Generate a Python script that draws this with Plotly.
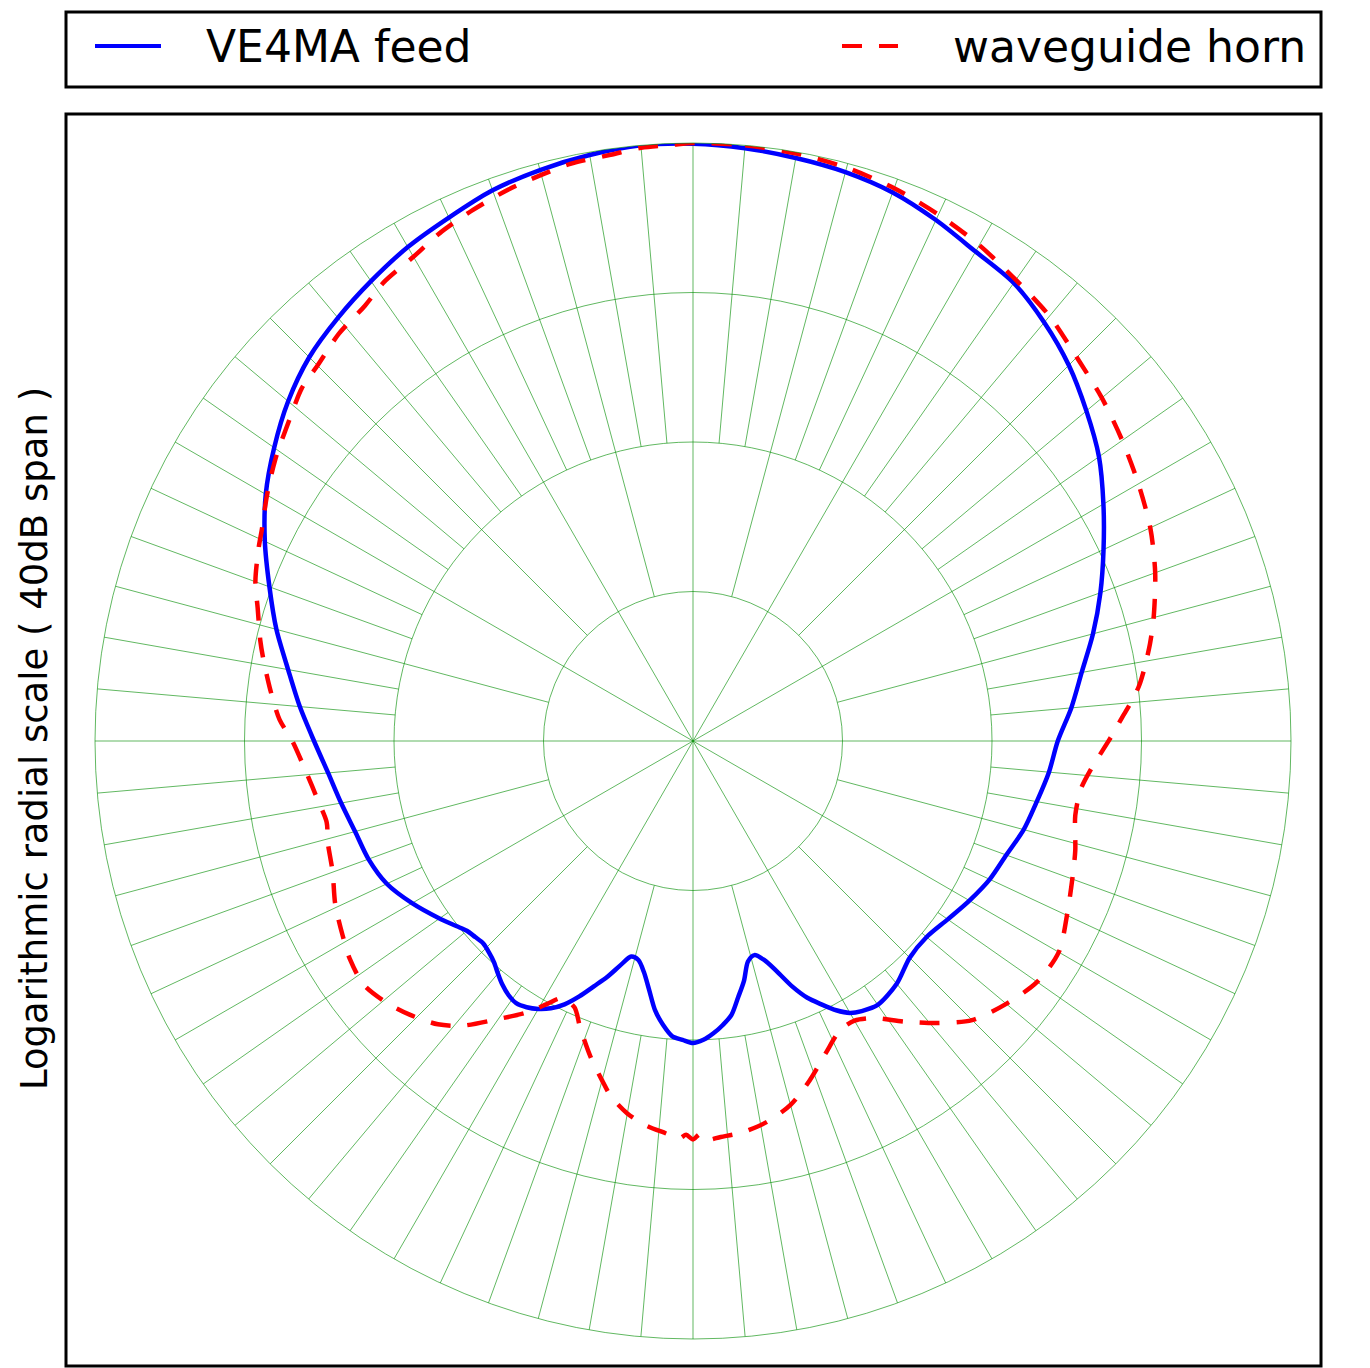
import plotly.graph_objects as go

# ---------------- data (angle in degrees clockwise from top, level in dB) ----
blue_theta = [0, 5, 10, 15, 20, 25, 30, 35, 40, 45, 50, 55, 60, 65, 70, 75, 80, 85,
              90, 95, 100, 105, 110, 115, 120, 125, 130, 135, 140, 145, 148, 150,
              152, 154, 156, 158, 160, 162, 164, 166, 168, 170, 172, 174, 176, 178,
              180, 182, 184, 186, 188, 190, 192, 194, 196, 198, 200, 202, 204, 206,
              208, 210, 212, 214, 216, 218, 220, 222, 224, 226, 228, 230, 232, 235,
              240, 245, 250, 255, 260, 265, 270, 275, 280, 285, 290, 295, 300, 305,
              310, 315, 320, 325, 330, 335, 340, 345, 350, 355, 360]
blue_db = [-0.05, -0.2, -0.4, -0.6, -0.95, -1.55, -2.2, -2.6, -3.45, -4.45, -5.65,
           -6.85, -8.3, -9.7, -11.0, -12.3, -13.6, -14.6, -15.6, -16.1, -16.65,
           -17.1, -17.7, -18.1, -18.65, -19.2, -19.6, -19.5, -18.8, -18.45, -18.7,
           -19.0, -19.6, -20.4, -21.2, -22.3, -23.6, -24.6, -25.1, -24.8, -23.6,
           -22.6, -21.5, -20.9, -20.4, -20.0, -19.8, -20.0, -20.2, -20.9, -21.8,
           -23.1, -24.2, -24.9, -25.0, -24.2, -23.2, -22.3, -21.3, -20.4, -19.75,
           -19.3, -19.0, -18.85, -19.0, -19.3, -19.7, -20.1, -20.35, -20.5, -20.4,
           -20.25, -19.9, -19.3, -18.3, -17.4, -16.9, -16.6, -16.1, -15.5, -14.65,
           -13.6, -12.5, -11.15, -9.85, -8.4, -7.0, -5.8, -4.65, -3.7, -3.05, -2.45,
           -1.85, -1.37, -0.8, -0.46, -0.2, 0.0, -0.05]

red_theta = [0, 5, 10, 15, 20, 25, 30, 35, 40, 45, 50, 55, 60, 65, 70, 75, 78, 81,
             83, 85, 87, 89, 91, 94, 97, 101, 106, 110, 115, 120, 125, 130, 135, 139,
             143, 147, 150, 153, 157, 161, 165, 169, 173, 176, 178, 179, 180, 181,
             182, 184, 187, 190, 193, 195, 198, 201.5, 204, 207, 209, 211.5, 215,
             219, 222, 226, 229.5, 233.5, 237.5, 241, 245.5, 250, 254.5, 257.5, 261,
             265, 270, 273, 277, 281, 283, 287, 290, 294, 296, 300, 304, 309, 312,
             315, 319, 323, 326, 330, 333.5, 337.5, 341.5, 345, 348, 352, 355, 358, 360]
red_db = [0.0, 0.0, -0.1, -0.3, -0.65, -1.15, -1.7, -2.35, -2.9, -3.7, -4.3, -4.95,
          -5.6, -6.25, -7.1, -8.1, -8.75, -9.45, -9.95, -10.6, -11.3, -11.9, -12.5,
          -13.3, -13.85, -13.95, -13.4, -13.0, -12.4, -11.75, -11.9, -12.65, -13.6,
          -15.0, -16.5, -17.9, -18.4, -18.3, -17.3, -16.0, -14.8, -14.05, -13.6,
          -13.45, -13.3, -13.7, -13.35, -13.65, -13.4, -13.7, -14.1, -14.7, -15.6,
          -16.5, -17.8, -19.4, -20.5, -20.7, -19.9, -18.7, -17.3, -15.5, -14.5,
          -13.65, -13.05, -12.6, -12.8, -13.2, -13.7, -14.35, -14.65, -14.9, -14.6,
          -14.1, -13.2, -12.3, -11.5, -10.7, -10.3, -9.55, -8.85, -8.2, -7.9, -7.1,
          -6.3, -5.4, -4.77, -4.48, -3.9, -3.54, -3.0, -2.6, -2.04, -1.55, -1.1,
          -0.8, -0.53, -0.4, -0.17, -0.1, 0.0]

series_names = ["VE4MA feed", "waveguide horn"]
y_label = "Logarithmic radial scale ( 40dB span )"
db_floor, db_top = -40, 0
ring_levels = [-30, -20, -10]

# ---------------- figure geometry helpers (page pixels -> paper) -----------
W, H = 1370, 1368
OFF = 8  # page body margin in front of the plot div
def px(x):
    return (x - OFF) / W
def py(y):
    return 1 - (y - OFF) / H

GRID = "rgba(0,140,0,0.62)"
FONT = "DejaVu Sans"

fig = go.Figure()

# spoke grid: 30deg from centre, 15deg from first ring, 5deg from second ring
sp_r, sp_t = [], []
for a in range(0, 360, 5):
    if a % 30 == 0:
        r0 = db_floor
    elif a % 15 == 0:
        r0 = ring_levels[0]
    else:
        r0 = ring_levels[1]
    sp_r += [r0, db_top, None]
    sp_t += [a, a, None]
fig.add_trace(go.Scatterpolar(r=sp_r, theta=sp_t, mode="lines",
                              line=dict(color=GRID, width=1),
                              connectgaps=False, hoverinfo="skip",
                              showlegend=False))

fig.add_trace(go.Scatterpolar(r=blue_db, theta=blue_theta, mode="lines",
                              name=series_names[0],
                              line=dict(color="#0000ff", width=4.5, shape="spline",
                                        smoothing=0.8),
                              showlegend=False))
fig.add_trace(go.Scatterpolar(r=red_db, theta=red_theta, mode="lines",
                              name=series_names[1],
                              line=dict(color="#ff0000", width=4.5, dash="20px,17px",
                                        shape="spline", smoothing=0.8),
                              showlegend=False))

cx, cy, R = 693, 741, 598
fig.update_layout(
    width=W, height=H,
    margin=dict(l=0, r=0, t=0, b=0),
    paper_bgcolor="white",
    showlegend=False,
    polar=dict(
        domain=dict(x=[px(cx - R), px(cx + R)], y=[py(cy + R), py(cy - R)]),
        bgcolor="white",
        radialaxis=dict(range=[db_floor, db_top], tickvals=ring_levels,
                        showticklabels=False, ticks="", showline=False,
                        showgrid=True, gridcolor=GRID, gridwidth=1),
        angularaxis=dict(rotation=90, direction="clockwise",
                         showgrid=False, showticklabels=False, ticks="",
                         showline=True, linecolor=GRID, linewidth=1),
    ),
)

# frames
fig.add_shape(type="rect", xref="paper", yref="paper",
              x0=px(66), x1=px(1321), y0=py(87), y1=py(12),
              line=dict(color="black", width=3), fillcolor="rgba(0,0,0,0)")
fig.add_shape(type="rect", xref="paper", yref="paper",
              x0=px(66), x1=px(1321), y0=py(1366), y1=py(114),
              line=dict(color="black", width=3), fillcolor="rgba(0,0,0,0)")

# legend samples
fig.add_shape(type="line", xref="paper", yref="paper",
              x0=px(95), x1=px(161), y0=py(46), y1=py(46),
              line=dict(color="#0000ff", width=4))
for x0, x1 in [(842, 862), (879, 898)]:
    fig.add_shape(type="line", xref="paper", yref="paper",
                  x0=px(x0), x1=px(x1), y0=py(46), y1=py(46),
                  line=dict(color="#ff0000", width=4))

fig.add_annotation(text=series_names[0], xref="paper", yref="paper",
                   x=px(204), y=py(46), xanchor="left", yanchor="middle",
                   showarrow=False, font=dict(family=FONT, size=44, color="black"))
fig.add_annotation(text=series_names[1], xref="paper", yref="paper",
                   x=px(1308), y=py(46), xanchor="right", yanchor="middle",
                   showarrow=False, font=dict(family=FONT, size=44, color="black"))
fig.add_annotation(text=y_label, xref="paper", yref="paper",
                   x=px(34), y=py(739), xanchor="center", yanchor="middle",
                   textangle=-90, showarrow=False,
                   font=dict(family=FONT, size=37, color="black"))

fig.write_html("out.html")
